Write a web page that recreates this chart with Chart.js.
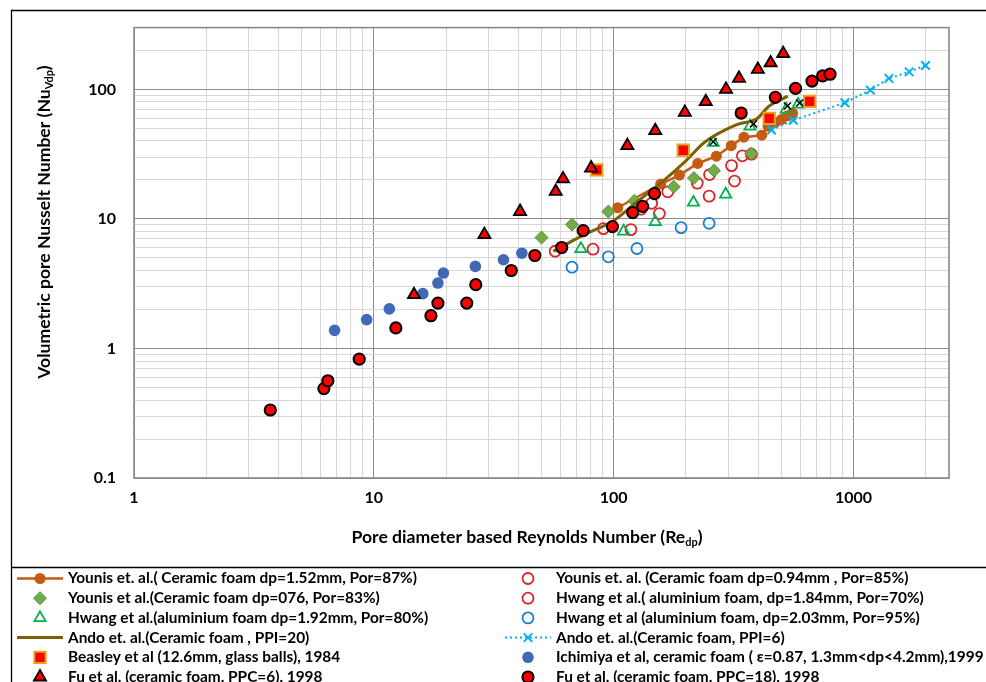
<!DOCTYPE html>
<html>
<head>
<meta charset="utf-8">
<script src="https://cdn.jsdelivr.net/npm/chart.js@4.4.0/dist/chart.umd.min.js"></script>
<style>
  html, body { margin: 0; padding: 0; background: #fff; }
  #wrap { width: 986px; height: 682px; }
</style>
</head>
<body>
<div id="wrap"><canvas id="chart" width="986" height="682"></canvas></div>
<script>
// values (Re_dp on x, Nu_vdp on y)

var younis152X = [104, 157, 188, 224, 268, 309, 349, 414, 440, 470, 500, 530, 557];
var younis152Y = [12.2, 18.6, 21.8, 26.8, 30.5, 36.8, 42.8, 44.3, 52, 55.5, 58.5, 62.5, 65.4];

var younis094X = [57, 90.6, 130, 144, 168, 223, 251, 310, 344, 375];
var younis094Y = [5.63, 8.42, 11.9, 13.2, 16.2, 18.9, 22.0, 25.8, 30.7, 31.6];

var younis076X = [50, 67, 95, 122, 178, 216, 262, 375];
var younis076Y = [7.18, 9.04, 11.4, 13.8, 17.7, 20.7, 23.6, 32];

var hwang184X = [82, 118, 155, 250, 319];
var hwang184Y = [5.84, 8.27, 11.0, 15.0, 19.6];

var hwang192X = [73, 110, 149, 215, 293, 260, 370, 524, 588];
var hwang192Y = [5.88, 8.03, 9.49, 13.4, 15.5, 38.8, 51.9, 70.2, 76.7];

var hwang203X = [67, 95, 125, 191, 250];
var hwang203Y = [4.24, 5.1, 5.91, 8.57, 9.25];

var ando20X = [56, 74, 99, 124, 157, 200, 243, 322, 392, 445, 532];
var ando20Y = [5.63, 7.44, 9.59, 13.4, 18.9, 28.1, 40, 53.1, 58.8, 74.5, 88.8];

var ando6X = [455, 561, 920, 1175, 1404, 1706, 1996];
var ando6Y = [48.6, 57.8, 78.9, 98.8, 121.6, 136.6, 153];

var beasleyX = [85, 195, 445, 656];
var beasleyY = [23.9, 33.9, 59.8, 80.9];

var ichimiyaX = [6.86, 9.33, 11.6, 16, 18.5, 19.5, 26.5, 34.7, 41.4];
var ichimiyaY = [1.38, 1.67, 2.02, 2.65, 3.2, 3.82, 4.3, 4.84, 5.44];

var fu6X = [14.7, 28.9, 40.7, 57.3, 61.5, 80.5, 114, 149, 198, 242, 294, 333, 399, 451, 509];
var fu6Y = [2.6, 7.57, 11.4, 16.3, 20.4, 24.7, 36.8, 48, 66.5, 80.4, 100, 121.6, 142.6, 160, 189];

var fu18X = [3.7, 6.19, 6.43, 8.69, 12.35, 17.3, 18.5, 24.4, 26.6, 37.4, 46.9, 60.7, 74.6, 98.8, 120, 132, 148, 340, 472, 573, 671, 743, 798];
var fu18Y = [0.335, 0.49, 0.563, 0.828, 1.44, 1.79, 2.24, 2.24, 3.11, 4.0, 5.22, 6.02, 8.13, 8.73, 11.2, 12.5, 15.7, 65.7, 86.8, 101.9, 115.9, 127, 131];

// unlabelled black crosses (legend row is cut off in the figure)
var extraX = [260, 383, 530, 596];
var extraY = [39.4, 54.2, 74.5, 78.6];

// axis ticks
var xGrid = [1, 2, 3, 4, 5, 6, 7, 8, 9, 10, 20, 30, 40, 50, 60, 70, 80, 90,
  100, 200, 300, 400, 500, 600, 700, 800, 900, 1000, 2000, 2500];
var yGrid = [0.1, 0.2, 0.3, 0.4, 0.5, 0.6, 0.7, 0.8, 0.9, 1, 2, 3, 4, 5, 6, 7, 8, 9,
  10, 20, 30, 40, 50, 60, 70, 80, 90, 100, 200, 300];
var xLabels = [1, 10, 100, 1000];
var yLabels = [0.1, 1, 10, 100];

function pts(xs, ys) {
  return xs.map(function(x, i) { return {x: x, y: ys[i]}; });
}
function isDecade(v) {
  var l = Math.log10(v);
  return Math.abs(l - Math.round(l)) < 1e-9;
}

var FONT = 'Lato, "Open Sans", sans-serif';

var datasets = [
  { label: 'Younis et. al.( Ceramic foam dp=1.52mm, Por=87%)', data: pts(younis152X, younis152Y),
    showLine: true, borderColor: '#c55a11', backgroundColor: '#c55a11', borderWidth: 2.5,
    pointStyle: 'circle', pointRadius: 5.5, pointBorderWidth: 0 },
  { label: 'Younis et. al. (Ceramic foam dp=0.94mm , Por=85%)', data: pts(younis094X, younis094Y),
    borderColor: '#d9262b', backgroundColor: 'rgba(0,0,0,0)', pointStyle: 'circle', pointRadius: 5.5, pointBorderWidth: 1.8 },
  { label: 'Younis et al.(Ceramic foam dp=076, Por=83%)', data: pts(younis076X, younis076Y),
    borderColor: '#5e8f3c', backgroundColor: '#70ad47', pointStyle: 'rectRot', pointRadius: 6.5, pointBorderWidth: 1 },
  { label: 'Hwang et al.( aluminium foam, dp=1.84mm, Por=70%)', data: pts(hwang184X, hwang184Y),
    borderColor: '#d9262b', backgroundColor: 'rgba(0,0,0,0)', pointStyle: 'circle', pointRadius: 5.5, pointBorderWidth: 1.8 },
  { label: 'Hwang et al.(aluminium foam dp=1.92mm, Por=80%)', data: pts(hwang192X, hwang192Y),
    borderColor: '#00b050', backgroundColor: 'rgba(0,0,0,0)', pointStyle: 'triangle', pointRadius: 6.5, pointBorderWidth: 1.8 },
  { label: 'Hwang et al (aluminium foam, dp=2.03mm, Por=95%)', data: pts(hwang203X, hwang203Y),
    borderColor: '#1a7fd4', backgroundColor: 'rgba(0,0,0,0)', pointStyle: 'circle', pointRadius: 5.5, pointBorderWidth: 1.8 },
  { label: 'Ando et. al.(Ceramic foam , PPI=20)', data: pts(ando20X, ando20Y),
    showLine: true, borderColor: '#7f6000', backgroundColor: '#7f6000', borderWidth: 3, tension: 0.35,
    pointRadius: 0, pointStyle: false },
  { label: 'Ando et. al.(Ceramic foam, PPI=6)', data: pts(ando6X, ando6Y),
    showLine: true, borderColor: '#00b0f0', backgroundColor: '#00b0f0', borderWidth: 2, borderDash: [2, 3],
    pointStyle: 'crossRot', pointRadius: 6, pointBorderWidth: 2 },
  { label: 'Beasley et al (12.6mm, glass balls), 1984', data: pts(beasleyX, beasleyY),
    borderColor: '#e8a317', backgroundColor: '#ff0000', pointStyle: 'rect', pointRadius: 8, pointBorderWidth: 2 },
  { label: 'Ichimiya et al, ceramic foam ( \u03b5=0.87, 1.3mm<dp<4.2mm),1999', data: pts(ichimiyaX, ichimiyaY),
    borderColor: '#4169b5', backgroundColor: '#4169b5', pointStyle: 'circle', pointRadius: 5.8, pointBorderWidth: 0 },
  { label: 'Fu et al. (ceramic foam, PPC=6), 1998', data: pts(fu6X, fu6Y),
    borderColor: '#000000', backgroundColor: '#ff0000', pointStyle: 'triangle', pointRadius: 7, pointBorderWidth: 1.8 },
  { label: 'Fu et al. (ceramic foam, PPC=18), 1998', data: pts(fu18X, fu18Y),
    borderColor: '#000000', backgroundColor: '#ff0000', pointStyle: 'circle', pointRadius: 5.6, pointBorderWidth: 2 },
  { label: 'extra', data: pts(extraX, extraY),
    borderColor: '#000000', backgroundColor: '#000000', pointStyle: 'crossRot', pointRadius: 5, pointBorderWidth: 1.5 }
];
// later series on top, like the spreadsheet
datasets.forEach(function(d, i) { d.order = datasets.length - i; });

// legend slots: [dataset index, column, row]
var legendSlots = [
  [0, 0, 0], [1, 1, 0], [2, 0, 1], [3, 1, 1], [4, 0, 2], [5, 1, 2],
  [6, 0, 3], [7, 1, 3], [8, 0, 4], [9, 1, 4], [10, 0, 5], [11, 1, 5]
];

function drawMixed(ctx, parts, cx, cy, size) {
  var total = 0;
  parts.forEach(function(p) {
    ctx.font = 'bold ' + (p[1] ? size * 0.62 : size) + 'px ' + FONT;
    p.w = ctx.measureText(p[0]).width;
    total += p.w;
  });
  var x = cx - total / 2;
  parts.forEach(function(p) {
    ctx.font = 'bold ' + (p[1] ? size * 0.62 : size) + 'px ' + FONT;
    ctx.fillText(p[0], x, cy + (p[1] ? size * 0.3 : 0));
    x += p.w;
  });
}

var decor = {
  id: 'decor',
  beforeDraw: function(chart) {
    var ctx = chart.ctx;
    ctx.save();
    ctx.fillStyle = '#fff';
    ctx.fillRect(0, 0, chart.width, chart.height);
    ctx.restore();
  },
  beforeDatasetsDraw: function(chart) {
    var ctx = chart.ctx, a = chart.chartArea;
    ctx.save();
    ctx.strokeStyle = '#868686';
    ctx.lineWidth = 1.5;
    ctx.strokeRect(a.left, a.top, a.right - a.left, a.bottom - a.top);
    ctx.restore();
  },
  afterDraw: function(chart) {
    var ctx = chart.ctx;
    ctx.save();
    // outer frame
    ctx.strokeStyle = '#000';
    ctx.lineWidth = 1.3;
    ctx.beginPath();
    ctx.moveTo(11.5, 682); ctx.lineTo(11.5, 10.5); ctx.lineTo(986, 10.5);
    ctx.moveTo(11.5, 567.5); ctx.lineTo(986, 567.5);
    ctx.stroke();

    // axis titles
    ctx.fillStyle = '#000';
    ctx.textBaseline = 'middle';
    ctx.textAlign = 'left';
    drawMixed(ctx, [['Pore diameter based Reynolds Number (Re', 0], ['dp', 1], [')', 0]], 527, 537, 17.6);
    ctx.save();
    ctx.translate(44, 222);
    ctx.rotate(-Math.PI / 2);
    drawMixed(ctx, [['Volumetric pore Nusselt Number (Nu', 0], ['Vdp', 1], [')', 0]], 0, 0, 17.6);
    ctx.restore();

    // legend, two columns
    var colMarker = [40, 528], colText = [68, 556];
    legendSlots.forEach(function(s) {
      var d = chart.data.datasets[s[0]];
      var mx = colMarker[s[1]], y = 578.5 + s[2] * 19.7;
      if (d.showLine) {
        ctx.save();
        ctx.strokeStyle = d.borderColor;
        ctx.lineWidth = d.borderWidth;
        ctx.setLineDash(d.borderDash || []);
        ctx.beginPath();
        ctx.moveTo(mx - 23, y); ctx.lineTo(mx + 23, y);
        ctx.stroke();
        ctx.restore();
      }
      if (d.pointStyle && d.pointRadius > 0) {
        ctx.save();
        ctx.fillStyle = d.backgroundColor;
        ctx.strokeStyle = d.borderColor;
        ctx.lineWidth = d.pointBorderWidth;
        Chart.helpers.drawPoint(ctx, {pointStyle: d.pointStyle, radius: d.pointRadius, rotation: 0,
          borderWidth: d.pointBorderWidth}, mx, y);
        ctx.restore();
      }
      ctx.fillStyle = '#000';
      ctx.font = 'bold 15.4px ' + FONT;
      ctx.fillText(d.label, colText[s[1]], y);
    });
    ctx.restore();
  }
};

var chart = new Chart(document.getElementById('chart'), {
  type: 'scatter',
  data: { datasets: datasets },
  options: {
    responsive: false,
    animation: false,
    events: [],
    layout: { padding: { left: 0, top: 27, right: 37, bottom: 134 } },
    plugins: { legend: { display: false }, tooltip: { enabled: false } },
    scales: {
      x: {
        type: 'logarithmic', min: 1, max: 2500,
        afterBuildTicks: function(scale) { scale.ticks = xGrid.map(function(v) { return {value: v}; }); },
        afterFit: function(scale) { scale.height = 70; },
        ticks: {
          autoSkip: false, maxRotation: 0, padding: 10, color: '#000',
          font: { family: FONT, size: 16, weight: 'bold' },
          callback: function(v) { return xLabels.indexOf(v) >= 0 ? String(v) : ''; }
        },
        grid: {
          drawTicks: false, lineWidth: 1,
          color: function(c) { return c.tick && isDecade(c.tick.value) ? '#8c8c8c' : '#d6d6d6'; }
        },
        border: { display: false }
      },
      y: {
        type: 'logarithmic', min: 0.1, max: 300,
        afterBuildTicks: function(scale) { scale.ticks = yGrid.map(function(v) { return {value: v}; }); },
        afterFit: function(scale) { scale.width = 134; },
        ticks: {
          autoSkip: false, padding: 18, color: '#000',
          font: { family: FONT, size: 16, weight: 'bold' },
          callback: function(v) { return yLabels.indexOf(v) >= 0 ? String(v) : ''; }
        },
        grid: {
          drawTicks: false, lineWidth: 1,
          color: function(c) { return c.tick && isDecade(c.tick.value) ? '#8c8c8c' : '#d6d6d6'; }
        },
        border: { display: false }
      }
    }
  },
  plugins: [decor]
});
</script>
</body>
</html>
